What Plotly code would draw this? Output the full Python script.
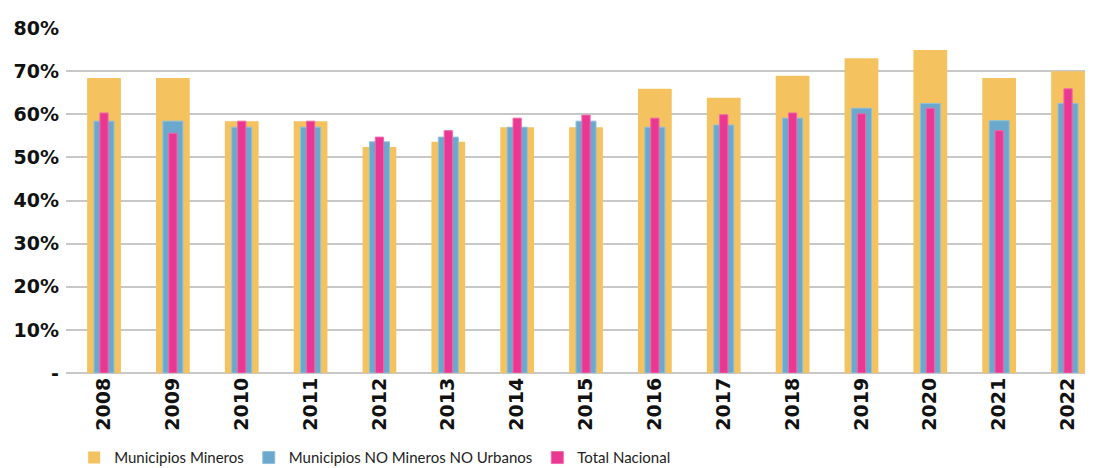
import plotly.graph_objects as go

years = ["2008", "2009", "2010", "2011", "2012", "2013", "2014", "2015",
         "2016", "2017", "2018", "2019", "2020", "2021", "2022"]
mineros = [68.4, 68.4, 58.4, 58.4, 52.4, 53.6, 57.0, 57.0, 65.9, 63.8, 68.9, 73.0, 74.9, 68.4, 70.0]
no_mineros = [58.4, 58.4, 57.0, 57.0, 53.6, 54.7, 57.0, 58.4, 57.0, 57.5, 59.1, 61.4, 62.5, 58.5, 62.5]
nacional = [60.3, 55.6, 58.4, 58.4, 54.7, 56.2, 59.1, 59.8, 59.1, 59.9, 60.3, 60.1, 61.4, 56.2, 65.9]
y_ticks = [0, 10, 20, 30, 40, 50, 60, 70, 80]
y_labels = ["-", "10%", "20%", "30%", "40%", "50%", "60%", "70%", "80%"]

fig = go.Figure()
fig.add_trace(go.Bar(x=years, y=mineros, name="Municipios Mineros", width=0.49,
                     marker=dict(color="#F4C25F", line=dict(width=0))))
fig.add_trace(go.Bar(x=years, y=no_mineros, name="Municipios NO Mineros NO Urbanos", width=0.29,
                     marker=dict(color="#6AA8CE", line=dict(color="#8DC0DE", width=1))))
fig.add_trace(go.Bar(x=years, y=nacional, name="Total Nacional", width=0.12,
                     marker=dict(color="#EA3892", line=dict(color="#F06AA8", width=1))))

fig.update_layout(
    width=1085, height=460,
    barmode="overlay",
    plot_bgcolor="white", paper_bgcolor="white",
    margin=dict(l=58, r=5, t=20, b=95, autoexpand=False),
    font=dict(family="Lato", color="#111111"),
    showlegend=True,
    legend=dict(orientation="h", x=0.008, xanchor="left", y=-0.198, yanchor="top",
                font=dict(size=15, family="Lato", color="#222222"),
                traceorder="normal", itemwidth=30),
    hovermode=False,
)
fig.update_xaxes(type="category", range=[-0.552, 14.29], tickangle=-90, automargin=False,
                 tickfont=dict(size=19, family="DejaVu Sans", weight="bold", color="#111111"),
                 showgrid=False, ticks="", showline=False, zeroline=False)
fig.update_yaxes(range=[0, 80], tickvals=y_ticks, ticktext=y_labels, automargin=False,
                 tickfont=dict(size=19, family="DejaVu Sans", weight="bold", color="#111111"),
                 showgrid=True, gridcolor="#C8C8C8", gridwidth=1.5,
                 zeroline=True, zerolinecolor="#C8C8C8", zerolinewidth=1.5,
                 showline=False, ticks="", ticklabelstandoff=6)

fig.write_html("out.html")
